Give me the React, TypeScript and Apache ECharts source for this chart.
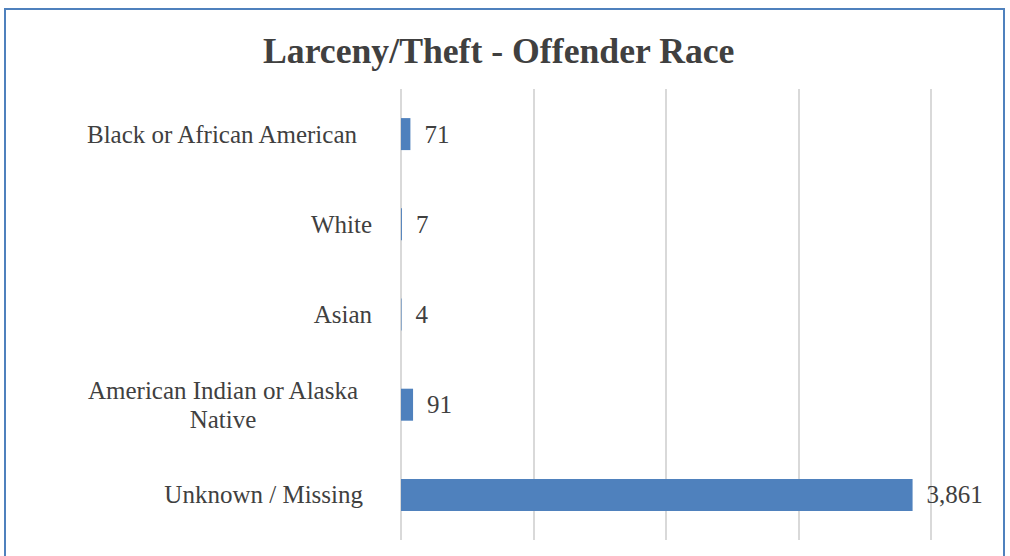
import React, { useEffect, useRef } from "react";
import * as echarts from "echarts";

const categories = [
  "Black or African American",
  "White",
  "Asian",
  "American Indian or Alaska\nNative",
  "Unknown / Missing",
];
const values = [71, 7, 4, 91, 3861];
const titleText = "Larceny/Theft - Offender Race";

const FONT = "'Liberation Serif', 'Times New Roman', serif";
const TEXT = "#404040";
const FS = 25;

export default function App() {
  const ref = useRef<HTMLDivElement>(null);
  useEffect(() => {
    if (!ref.current) return;
    const chart = echarts.init(ref.current, null, { renderer: "svg" });
    chart.setOption({
      animation: false,
      backgroundColor: "#ffffff",
      title: {
        text: titleText,
        left: 263,
        top: 33,
        padding: 0,
        textStyle: { fontFamily: FONT, fontWeight: "bold", fontSize: 35.7, color: TEXT },
      },
      graphic: [
        {
          type: "rect",
          shape: { x: 5, y: 9, width: 999, height: 560 },
          style: { fill: "none", stroke: "#4F81BD", lineWidth: 2 },
          silent: true,
        },
      ],
      grid: { left: 401, right: 79, top: 89, bottom: 16, containLabel: false },
      xAxis: {
        type: "value",
        min: 0,
        max: 4000,
        interval: 1000,
        axisLabel: { show: false },
        axisLine: { show: false },
        axisTick: { show: false },
        splitLine: { show: true, lineStyle: { color: "#d9d9d9", width: 2 } },
      },
      yAxis: {
        type: "category",
        inverse: true,
        data: categories,
        axisLine: { show: false },
        axisTick: { show: false },
        axisLabel: {
          margin: 29,
          fontFamily: FONT,
          fontSize: FS,
          color: TEXT,
          align: "right",
          formatter: (v: string) => {
            if (v.indexOf("\n") >= 0) {
              return v
                .split("\n")
                .map((s) => `{c|${s}}`)
                .join("\n");
            }
            if (v === "Black or African American") return `{r15|${v}}`;
            if (v === "Unknown / Missing") return `{r9|${v}}`;
            return v;
          },
          rich: {
            c: {
              width: 270,
              align: "center",
              fontFamily: FONT,
              fontSize: FS,
              color: TEXT,
              lineHeight: 29,
              padding: [0, 14, 0, 0],
            },
            r15: { fontFamily: FONT, fontSize: FS, color: TEXT, padding: [0, 15, 0, 0] },
            r9: { fontFamily: FONT, fontSize: FS, color: TEXT, padding: [0, 9, 0, 0] },
          },
        },
      },
      series: [
        {
          type: "bar",
          data: values,
          barWidth: 32,
          itemStyle: { color: "#4F81BD" },
          label: {
            show: true,
            position: "right",
            distance: 14,
            fontFamily: FONT,
            fontSize: FS,
            color: TEXT,
            formatter: (p: any) => Number(p.value).toLocaleString("en-US"),
          },
        },
      ],
    });
    return () => chart.dispose();
  }, []);
  return (
    <div
      ref={ref}
      style={{ position: "absolute", left: 0, top: 0, width: 1010, height: 556 }}
    />
  );
}
